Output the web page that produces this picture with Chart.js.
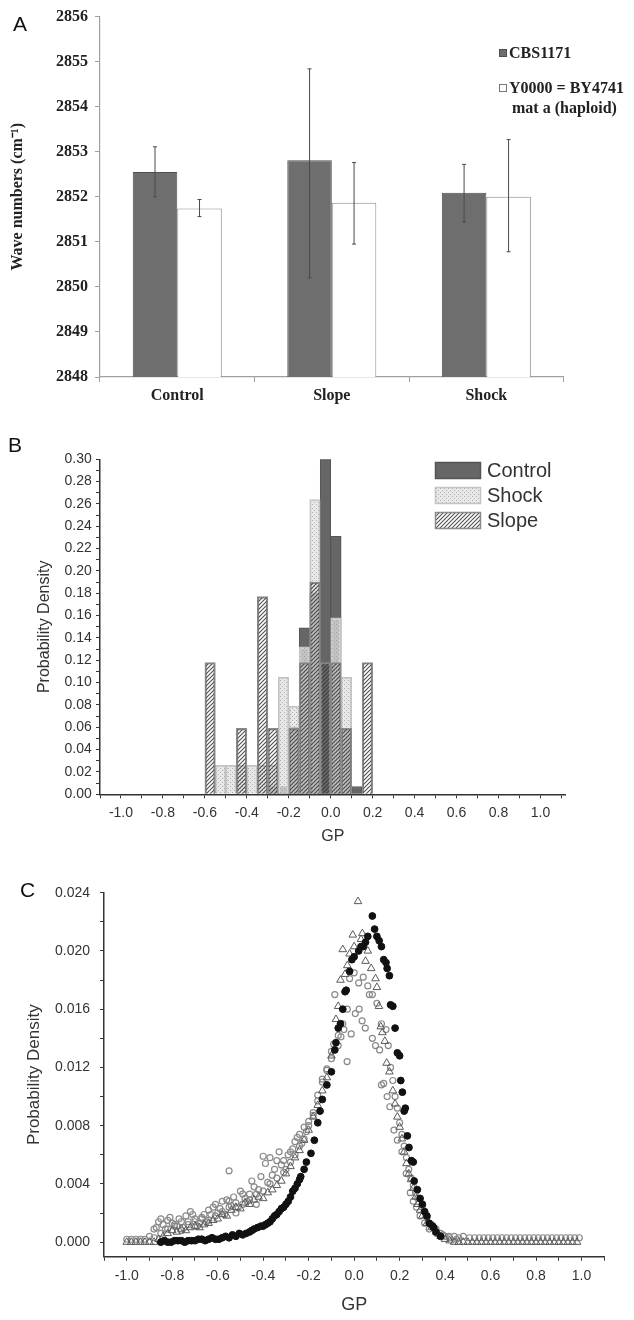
<!DOCTYPE html>
<html>
<head>
<meta charset="utf-8">
<title>Membrane fluidity figure</title>
<script src="https://cdn.jsdelivr.net/npm/chart.js@4.4.1/dist/chart.umd.min.js"></script>
<style>
  html, body { margin: 0; padding: 0; background: #fff; }
  #page { position: relative; width: 634px; height: 1320px; overflow: hidden; }
  #page canvas { position: absolute; left: 0; display: block; }
  .panel-label { position: absolute; font-family: 'Liberation Sans', Arial, sans-serif; font-size: 21px; line-height: 1; color: #111; }
</style>
</head>
<body>
<div id="page">
  <canvas id="chart-a" width="634" height="420" style="top:0"></canvas>
  <canvas id="chart-b" width="634" height="430" style="top:420px"></canvas>
  <canvas id="chart-c" width="634" height="470" style="top:850px"></canvas>
  <div class="panel-label" style="left:13px;top:13px">A</div>
  <div class="panel-label" style="left:8px;top:434px">B</div>
  <div class="panel-label" style="left:20px;top:879px">C</div>
</div>
<script>
// ---- panel A : wave numbers per treatment ----
const treatments = ['Control', 'Slope', 'Shock'];
const cbsMean = [2852.55, 2852.81, 2852.09];
const cbsHigh = [2853.11, 2854.84, 2852.72];
const cbsLow = [2852.00, 2850.20, 2851.44];
const byMean = [2851.74, 2851.87, 2852.00];
const byHigh = [2851.94, 2852.76, 2853.27];
const byLow = [2851.56, 2850.95, 2850.78];
const waveTicks = [2848, 2849, 2850, 2851, 2852, 2853, 2854, 2855, 2856];

// ---- panel B : GP histograms (bin centres, width 0.05) ----
const gpBins = [-0.575, -0.525, -0.475, -0.425, -0.375, -0.325, -0.275, -0.225,
                -0.175, -0.125, -0.075, -0.025, 0.025, 0.075, 0.125, 0.175];
const controlHist = [0, 0, 0, 0, 0, 0, 0.007, 0.007, 0.06, 0.149, 0.18, 0.30, 0.231, 0.059, 0.007, 0];
const shockHist = [0, 0.026, 0.026, 0.026, 0.026, 0.026, 0.026, 0.105, 0.079, 0.132, 0.264, 0, 0.158, 0.105, 0, 0];
const slopeHist = [0.118, 0, 0, 0.059, 0, 0.177, 0.059, 0, 0.059, 0.118, 0.19, 0.118, 0.118, 0.059, 0, 0.118];
const histTicks = [0, 0.02, 0.04, 0.06, 0.08, 0.10, 0.12, 0.14, 0.16, 0.18, 0.20, 0.22, 0.24, 0.26, 0.28, 0.30];
const gpTicks = [-1.0, -0.8, -0.6, -0.4, -0.2, 0, 0.2, 0.4, 0.6, 0.8, 1.0];

// ---- panel C : GP probability density, [GP, density] ----
const filledPdf = [
  [-0.85, 0.0000], [-0.82, 0.0000], [-0.79, 0.0001], [-0.76, 0.0001], [-0.73, 0.0001], [-0.70, 0.0001],
  [-0.67, 0.0002], [-0.64, 0.0002], [-0.61, 0.0002], [-0.58, 0.0003], [-0.55, 0.0003], [-0.52, 0.0004],
  [-0.49, 0.0005], [-0.46, 0.0007], [-0.44, 0.0009], [-0.41, 0.0011], [-0.39, 0.0012], [-0.37, 0.0014],
  [-0.35, 0.0018], [-0.33, 0.0021], [-0.31, 0.0024], [-0.29, 0.0028], [-0.27, 0.0035], [-0.25, 0.0040],
  [-0.235, 0.0045], [-0.22, 0.0050], [-0.21, 0.0055], [-0.19, 0.0061], [-0.175, 0.0070], [-0.16, 0.0082],
  [-0.15, 0.0090], [-0.14, 0.0098], [-0.12, 0.0108], [-0.10, 0.0117], [-0.08, 0.0137], [-0.07, 0.0147],
  [-0.05, 0.0160], [-0.035, 0.0173], [-0.02, 0.0186], [0.00, 0.0196], [0.02, 0.0200], [0.04, 0.0203],
  [0.06, 0.0210], [0.08, 0.0224], [0.09, 0.0215], [0.11, 0.0207], [0.13, 0.0194], [0.145, 0.0188],
  [0.155, 0.0183], [0.16, 0.0163], [0.18, 0.0147], [0.19, 0.0130], [0.205, 0.0111], [0.212, 0.0103],
  [0.22, 0.0090], [0.234, 0.0073], [0.241, 0.0065], [0.252, 0.0056], [0.264, 0.0042], [0.278, 0.0036],
  [0.29, 0.0030], [0.31, 0.0021], [0.33, 0.0013], [0.345, 0.0011], [0.36, 0.0007], [0.38, 0.0004]
];
const filledPdfB = [
  [-0.835, 0.0001], [-0.805, 0.0000], [-0.775, 0.0001], [-0.745, 0.0000], [-0.715, 0.0001], [-0.685, 0.0002],
  [-0.655, 0.0001], [-0.625, 0.0003], [-0.595, 0.0002], [-0.565, 0.0004], [-0.535, 0.0005], [-0.505, 0.0006],
  [-0.475, 0.0006], [-0.45, 0.0008], [-0.425, 0.0010], [-0.40, 0.0011], [-0.38, 0.0013], [-0.36, 0.0016],
  [-0.34, 0.0019], [-0.32, 0.0023], [-0.30, 0.0026], [-0.28, 0.0031], [-0.26, 0.0037], [-0.24, 0.0043],
  [-0.085, 0.0132], [-0.06, 0.0150], [-0.04, 0.0172], [-0.01, 0.0194], [0.03, 0.0203], [0.05, 0.0206],
  [0.10, 0.0210], [0.12, 0.0203], [0.14, 0.0192], [0.17, 0.0162], [0.20, 0.0128], [0.225, 0.0092],
  [0.26, 0.0055], [0.30, 0.0026], [0.32, 0.0018], [0.35, 0.0010]
];
const trianglePdf = [
  [-1.00, 0], [-0.98, 0], [-0.96, 0], [-0.94, 0], [-0.92, 0], [-0.90, 0], [-0.88, 0],
  [-0.86, 0.0002], [-0.84, 0.0004], [-0.82, 0.0006], [-0.80, 0.0008], [-0.78, 0.0007], [-0.76, 0.0009],
  [-0.74, 0.0008], [-0.72, 0.0010], [-0.70, 0.0011], [-0.68, 0.0010], [-0.66, 0.0012], [-0.64, 0.0013],
  [-0.62, 0.0015], [-0.60, 0.0016], [-0.58, 0.0019], [-0.56, 0.0018], [-0.54, 0.0022], [-0.52, 0.0024],
  [-0.50, 0.0023], [-0.48, 0.0027], [-0.46, 0.0026], [-0.44, 0.0029], [-0.42, 0.0031], [-0.40, 0.0030],
  [-0.38, 0.0034], [-0.36, 0.0036], [-0.34, 0.0039], [-0.32, 0.0042], [-0.30, 0.0047], [-0.28, 0.0052],
  [-0.26, 0.0058], [-0.24, 0.0063], [-0.22, 0.0070], [-0.20, 0.0077], [-0.18, 0.0086], [-0.16, 0.0094],
  [-0.14, 0.0104], [-0.12, 0.0113], [-0.10, 0.0128], [-0.08, 0.0153], [-0.07, 0.0162], [-0.06, 0.0180],
  [-0.05, 0.0201], [-0.04, 0.0184], [-0.03, 0.0190], [-0.02, 0.0198], [-0.006, 0.0211], [0.00, 0.0203],
  [0.017, 0.0234], [0.03, 0.0208], [0.036, 0.0212], [0.05, 0.0193], [0.06, 0.0200], [0.075, 0.0188],
  [0.094, 0.0181], [0.10, 0.0175], [0.109, 0.0162], [0.117, 0.0148], [0.124, 0.0144], [0.135, 0.0138],
  [0.143, 0.0123], [0.155, 0.0117], [0.17, 0.0104], [0.18, 0.0095], [0.19, 0.0086], [0.20, 0.0079],
  [0.21, 0.0071], [0.22, 0.0062], [0.23, 0.0054], [0.24, 0.0047], [0.25, 0.0043], [0.26, 0.0037],
  [0.27, 0.0031], [0.28, 0.0026], [0.29, 0.0022], [0.30, 0.0018], [0.32, 0.0013], [0.34, 0.0010],
  [0.36, 0.0007], [0.38, 0.0004], [0.40, 0.0002], [0.42, 0.0001],
  [0.44, 0], [0.46, 0], [0.48, 0], [0.50, 0], [0.52, 0], [0.54, 0], [0.56, 0], [0.58, 0], [0.60, 0],
  [0.62, 0], [0.64, 0], [0.66, 0], [0.68, 0], [0.70, 0], [0.72, 0], [0.74, 0], [0.76, 0], [0.78, 0],
  [0.80, 0], [0.82, 0], [0.84, 0], [0.86, 0], [0.88, 0], [0.90, 0], [0.92, 0], [0.94, 0], [0.96, 0], [0.98, 0]
];
const circlePdfA = [
  [-1.00, 0.0002], [-0.98, 0.0002], [-0.96, 0.0002], [-0.94, 0.0002], [-0.92, 0.0002],
  [-0.90, 0.0004], [-0.88, 0.0009], [-0.86, 0.0014], [-0.84, 0.0012], [-0.82, 0.0015], [-0.80, 0.0013],
  [-0.78, 0.0011], [-0.76, 0.0014], [-0.74, 0.0018], [-0.72, 0.0021], [-0.70, 0.0016], [-0.68, 0.0013],
  [-0.66, 0.0019], [-0.64, 0.0022], [-0.62, 0.0024], [-0.60, 0.0020], [-0.58, 0.0028], [-0.56, 0.0029],
  [-0.55, 0.0049], [-0.54, 0.0025], [-0.52, 0.0027], [-0.50, 0.0035], [-0.48, 0.0030], [-0.46, 0.0033],
  [-0.44, 0.0038], [-0.42, 0.0036], [-0.40, 0.0059], [-0.39, 0.0054], [-0.38, 0.0041], [-0.36, 0.0046],
  [-0.34, 0.0056], [-0.32, 0.0053], [-0.30, 0.0050], [-0.28, 0.0062], [-0.26, 0.0069], [-0.24, 0.0074],
  [-0.22, 0.0079], [-0.20, 0.0083], [-0.18, 0.0089], [-0.16, 0.0097], [-0.14, 0.0110], [-0.12, 0.0118],
  [-0.10, 0.0126], [-0.085, 0.0170], [-0.07, 0.0135], [-0.058, 0.0141], [-0.045, 0.0146], [-0.031, 0.0124],
  [-0.013, 0.0143], [0.005, 0.0157], [0.022, 0.0160], [0.035, 0.0152], [0.049, 0.0147], [0.067, 0.0170],
  [0.08, 0.0140], [0.094, 0.0135], [0.112, 0.0132], [0.12, 0.0108], [0.13, 0.0109], [0.145, 0.0100],
  [0.157, 0.0093], [0.175, 0.0077], [0.19, 0.0070], [0.21, 0.0062], [0.229, 0.0047], [0.247, 0.0034],
  [0.26, 0.0028], [0.274, 0.0024], [0.29, 0.0018], [0.31, 0.0013], [0.33, 0.0009], [0.363, 0.0006],
  [0.39, 0.0005], [0.417, 0.0004], [0.44, 0.0004], [0.46, 0.0003], [0.48, 0.0004], [0.507, 0.0003],
  [0.53, 0.0003], [0.55, 0.0003], [0.57, 0.0003], [0.59, 0.0003], [0.61, 0.0003], [0.63, 0.0003],
  [0.65, 0.0003], [0.67, 0.0003], [0.69, 0.0003], [0.71, 0.0003], [0.73, 0.0003], [0.75, 0.0003],
  [0.77, 0.0003], [0.79, 0.0003], [0.81, 0.0003], [0.83, 0.0003], [0.85, 0.0003], [0.87, 0.0003],
  [0.89, 0.0003], [0.91, 0.0003], [0.93, 0.0003], [0.95, 0.0003], [0.97, 0.0003], [0.99, 0.0003]
];
const circlePdfB = [
  [-0.88, 0.0003], [-0.85, 0.0006], [-0.82, 0.0009], [-0.79, 0.0011], [-0.76, 0.0008], [-0.73, 0.0012],
  [-0.70, 0.0014], [-0.67, 0.0017], [-0.64, 0.0015], [-0.61, 0.0018], [-0.58, 0.0021], [-0.55, 0.0024],
  [-0.52, 0.0020], [-0.49, 0.0026], [-0.46, 0.0029], [-0.43, 0.0026], [-0.40, 0.0035], [-0.37, 0.0040],
  [-0.34, 0.0044], [-0.31, 0.0048], [-0.28, 0.0055], [-0.26, 0.0060], [-0.24, 0.0066], [-0.22, 0.0071],
  [-0.20, 0.0080], [-0.18, 0.0087], [-0.16, 0.0101], [-0.14, 0.0112], [-0.12, 0.0119], [-0.10, 0.0131],
  [-0.09, 0.0136], [-0.07, 0.0142], [-0.05, 0.0150], [-0.03, 0.0160], [-0.02, 0.0181], [0.00, 0.0185],
  [0.02, 0.0178], [0.04, 0.0182], [0.06, 0.0176], [0.08, 0.0170], [0.10, 0.0164], [0.12, 0.0150],
  [0.14, 0.0146], [0.15, 0.0135], [0.16, 0.0120], [0.17, 0.0111], [0.18, 0.0100], [0.19, 0.0092],
  [0.20, 0.0082], [0.21, 0.0074], [0.22, 0.0066], [0.23, 0.0058], [0.24, 0.0050], [0.25, 0.0044],
  [0.26, 0.0039], [0.27, 0.0034], [0.28, 0.0030], [0.30, 0.0024], [0.32, 0.0017], [0.34, 0.0012],
  [0.36, 0.0009], [0.38, 0.0006], [0.40, 0.0004], [0.42, 0.0003], [0.45, 0.0002]
];
const circlePdfC = [
  [-0.87, 0.0010], [-0.85, 0.0016], [-0.83, 0.0009], [-0.81, 0.0017], [-0.79, 0.0012], [-0.77, 0.0016],
  [-0.75, 0.0010], [-0.73, 0.0014], [-0.71, 0.0019], [-0.69, 0.0011], [-0.67, 0.0016], [-0.65, 0.0014],
  [-0.63, 0.0019], [-0.61, 0.0026], [-0.59, 0.0023], [-0.57, 0.0019], [-0.55, 0.0028], [-0.53, 0.0031],
  [-0.51, 0.0024], [-0.49, 0.0033], [-0.47, 0.0028], [-0.45, 0.0042], [-0.43, 0.0033], [-0.41, 0.0045],
  [-0.37, 0.0058], [-0.35, 0.0050], [-0.33, 0.0062], [-0.31, 0.0056], [-0.29, 0.0060], [-0.27, 0.0064],
  [-0.25, 0.0072], [-0.23, 0.0068], [-0.21, 0.0076]
];
const pdfTicks = [0, 0.004, 0.008, 0.012, 0.016, 0.020, 0.024];

const serifFont = "'Liberation Serif', 'Times New Roman', serif";
const sansFont = "'Liberation Sans', Arial, sans-serif";

// majors plus half-step minor ticks that fall inside the axis range
const withMinors = (majors, min, max) => {
    const step = majors[1] - majors[0];
    const out = [];
    majors.forEach(v => { out.push(v - step / 2); out.push(v); });
    out.push(majors[majors.length - 1] + step / 2);
    return out.filter(v => v >= min - 1e-9 && v <= max + 1e-9);
};
const isMajor = (majors, v) => majors.some(m => Math.abs(m - v) < 1e-9);

const sansAxis = (o) => ({
    type: 'linear',
    min: o.min,
    max: o.max,
    offset: false,
    afterBuildTicks: s => { s.ticks = withMinors(o.majors, o.min, o.max).map(v => ({ value: v })); },
    afterFit: s => { if (o.width) s.width = o.width; if (o.height) s.height = o.height; },
    grid: { display: true, offset: false, drawOnChartArea: false, drawTicks: true, tickLength: 4, color: '#333' },
    border: { display: true, color: '#333', width: 1.5 },
    ticks: {
        autoSkip: false, maxRotation: 0, padding: o.pad, color: '#333',
        font: { family: sansFont, size: 14 },
        callback: v => isMajor(o.majors, v) ? v.toFixed(o.digits) : ''
    },
    title: { display: true, text: o.title, color: '#333', font: { family: sansFont, size: o.titleSize }, padding: o.titlePad }
});

const baseOptions = {
    responsive: false,
    animation: false,
    events: [],
    devicePixelRatio: 1
};

// ---------- A ----------
const errorBars = {
    id: 'errorBars',
    afterDatasetsDraw(chart) {
        const { ctx, scales: { y } } = chart;
        const ranges = [[cbsLow, cbsHigh], [byLow, byHigh]];
        ctx.save();
        ctx.strokeStyle = '#4a4a4a';
        ctx.lineWidth = 1;
        ranges.forEach(([lo, hi], d) => {
            chart.getDatasetMeta(d).data.forEach((bar, i) => {
                const top = y.getPixelForValue(hi[i]);
                const bottom = y.getPixelForValue(lo[i]);
                ctx.beginPath();
                ctx.moveTo(bar.x, top); ctx.lineTo(bar.x, bottom);
                ctx.moveTo(bar.x - 2, top); ctx.lineTo(bar.x + 2, top);
                ctx.moveTo(bar.x - 2, bottom); ctx.lineTo(bar.x + 2, bottom);
                ctx.stroke();
            });
        });
        ctx.restore();
    }
};

const legendA = {
    id: 'legendA',
    afterDraw(chart) {
        const ctx = chart.ctx;
        ctx.save();
        ctx.font = `bold 16px ${serifFont}`;
        ctx.textBaseline = 'middle';
        ctx.fillStyle = '#6e6e6e';
        ctx.fillRect(499, 49, 8, 8);
        ctx.strokeStyle = '#4f4f4f';
        ctx.strokeRect(499.5, 49.5, 7, 7);
        ctx.fillStyle = '#fff';
        ctx.fillRect(499, 84, 8, 8);
        ctx.strokeStyle = '#777';
        ctx.strokeRect(499.5, 84.5, 7, 7);
        ctx.fillStyle = '#222';
        ctx.fillText('CBS1171', 509, 54);
        ctx.fillText('Y0000 = BY4741', 509, 89);
        ctx.fillText('mat a (haploid)', 512, 109);
        ctx.restore();
    }
};

new Chart(document.getElementById('chart-a'), {
    type: 'bar',
    data: {
        labels: treatments,
        datasets: [
            { label: 'CBS1171', data: cbsMean, backgroundColor: '#6e6e6e', borderColor: '#4f4f4f', borderWidth: 1 },
            { label: 'Y0000 = BY4741 mat a (haploid)', data: byMean, backgroundColor: '#ffffff', borderColor: '#8a8a8a', borderWidth: 1 }
        ]
    },
    options: {
        ...baseOptions,
        layout: { padding: { top: 15, right: 70.4, left: 0, bottom: 0 } },
        datasets: { bar: { categoryPercentage: 0.576, barPercentage: 1 } },
        scales: {
            x: {
                afterFit: s => { s.height = 43; },
                grid: { offset: true, drawOnChartArea: false, tickLength: 5, color: '#a0a0a0' },
                border: { color: '#a0a0a0', width: 1.2 },
                ticks: { padding: 4, color: '#222', font: { family: serifFont, size: 16, weight: 'bold' } }
            },
            y: {
                min: 2848,
                max: 2856,
                afterBuildTicks: s => { s.ticks = waveTicks.map(v => ({ value: v })); },
                afterFit: s => { s.width = 100; },
                grid: { drawOnChartArea: false, tickLength: 5, color: '#a0a0a0' },
                border: { color: '#a0a0a0', width: 1.2 },
                ticks: { padding: 7, color: '#222', font: { family: serifFont, size: 16, weight: 'bold' }, callback: v => String(v) },
                title: { display: true, text: 'Wave numbers (cm⁻¹)', color: '#222', font: { family: serifFont, size: 16, weight: 'bold' }, padding: { top: 8 } }
            }
        },
        plugins: { legend: { display: false }, tooltip: { enabled: false } }
    },
    plugins: [errorBars, legendA]
});

// ---------- B ----------
const makeHatch = () => {
    const c = document.createElement('canvas');
    c.width = 4; c.height = 4;
    const g = c.getContext('2d');
    g.strokeStyle = 'rgba(60,60,60,0.9)';
    g.lineWidth = 1.1;
    g.beginPath();
    g.moveTo(-1, 5); g.lineTo(5, -1);
    g.moveTo(-1, 1); g.lineTo(1, -1);
    g.moveTo(3, 5); g.lineTo(5, 3);
    g.stroke();
    return g.createPattern(c, 'repeat');
};
const makeDots = () => {
    const c = document.createElement('canvas');
    c.width = 4; c.height = 4;
    const g = c.getContext('2d');
    g.fillStyle = 'rgba(225,225,225,0.75)';
    g.fillRect(0, 0, 4, 4);
    g.fillStyle = 'rgba(155,155,155,0.8)';
    g.fillRect(0, 0, 1, 1);
    g.fillRect(2, 2, 1, 1);
    return g.createPattern(c, 'repeat');
};
const hatch = makeHatch();
const dots = makeDots();

const toBars = (values) => gpBins.map((x, i) => ({ x, y: values[i] })).filter(p => p.y > 0);

const legendB = {
    id: 'legendB',
    afterDraw(chart) {
        const ctx = chart.ctx;
        const items = [
            { text: 'Control', fill: '#666', stroke: '#555', y: 50.5 },
            { text: 'Shock', fill: dots, stroke: '#c4c4c4', y: 75.5 },
            { text: 'Slope', fill: hatch, stroke: '#8a8a8a', y: 100.5 }
        ];
        ctx.save();
        ctx.font = `20px ${sansFont}`;
        ctx.textBaseline = 'middle';
        items.forEach(it => {
            ctx.fillStyle = '#fff';
            ctx.fillRect(435, it.y - 8.5, 46, 17);
            ctx.fillStyle = it.fill;
            ctx.fillRect(435, it.y - 8.5, 46, 17);
            ctx.strokeStyle = it.stroke;
            ctx.lineWidth = 1.5;
            ctx.strokeRect(435.5, it.y - 8, 45, 16);
            ctx.fillStyle = '#333';
            ctx.fillText(it.text, 487, it.y + 1);
        });
        ctx.restore();
    }
};

new Chart(document.getElementById('chart-b'), {
    type: 'bar',
    data: {
        datasets: [
            { label: 'Control', data: toBars(controlHist), backgroundColor: '#666', borderColor: '#555', borderWidth: 1, order: 3 },
            { label: 'Shock', data: toBars(shockHist), backgroundColor: dots, borderColor: '#c4c4c4', borderWidth: 1.5, order: 2 },
            { label: 'Slope', data: toBars(slopeHist), backgroundColor: hatch, borderColor: '#8a8a8a', borderWidth: 1.5, order: 1 }
        ]
    },
    options: {
        ...baseOptions,
        layout: { padding: { top: 39.3, right: 68.4, left: 0, bottom: 0 } },
        datasets: { bar: { categoryPercentage: 1, barPercentage: 1, grouped: false, borderSkipped: 'bottom' } },
        scales: {
            x: sansAxis({ min: -1.1, max: 1.12, majors: gpTicks, digits: 1, pad: 6.5, height: 55.7,
                          title: 'GP', titleSize: 16, titlePad: { bottom: 3.4 } }),
            y: sansAxis({ min: 0, max: 0.30, majors: histTicks, digits: 2, pad: 4.3, width: 100,
                          title: 'Probability Density', titleSize: 16, titlePad: { top: 35.4 } })
        },
        plugins: { legend: { display: false }, tooltip: { enabled: false } }
    },
    plugins: [legendB]
});

// ---------- C ----------
const toPoints = (pairs) => pairs.map(([x, y]) => ({ x, y }));
const openCircle = (label, pairs, order) => ({
    label, data: toPoints(pairs), pointStyle: 'circle', pointRadius: 3,
    backgroundColor: 'rgba(255,255,255,0)', borderColor: '#8a8a8a', borderWidth: 1.2, order
});
const filledCircle = (label, pairs) => ({
    label, data: toPoints(pairs), pointStyle: 'circle', pointRadius: 3.4,
    backgroundColor: '#111', borderColor: '#111', borderWidth: 1, order: 1
});

new Chart(document.getElementById('chart-c'), {
    type: 'scatter',
    data: {
        datasets: [
            filledCircle('filled', filledPdf),
            filledCircle('filled B', filledPdfB),
            { label: 'triangles', data: toPoints(trianglePdf), pointStyle: 'triangle', pointRadius: 4.4,
              backgroundColor: 'rgba(255,255,255,0)', borderColor: '#5a5a5a', borderWidth: 1, order: 2 },
            openCircle('circles A', circlePdfA, 3),
            openCircle('circles B', circlePdfB, 4),
            openCircle('circles C', circlePdfC, 5)
        ]
    },
    options: {
        ...baseOptions,
        layout: { padding: { top: 42.7, right: 29.7, left: 0, bottom: 0 } },
        scales: {
            x: sansAxis({ min: -1.1, max: 1.1, majors: gpTicks, digits: 1, pad: 6.6, height: 63.3,
                          title: 'GP', titleSize: 18, titlePad: { bottom: 4.2 } }),
            y: sansAxis({ min: -0.001, max: 0.024, majors: pdfTicks, digits: 3, pad: 10, width: 104,
                          title: 'Probability Density', titleSize: 17, titlePad: { top: 24.4 } })
        },
        plugins: { legend: { display: false }, tooltip: { enabled: false } }
    }
});
</script>
</body>
</html>
